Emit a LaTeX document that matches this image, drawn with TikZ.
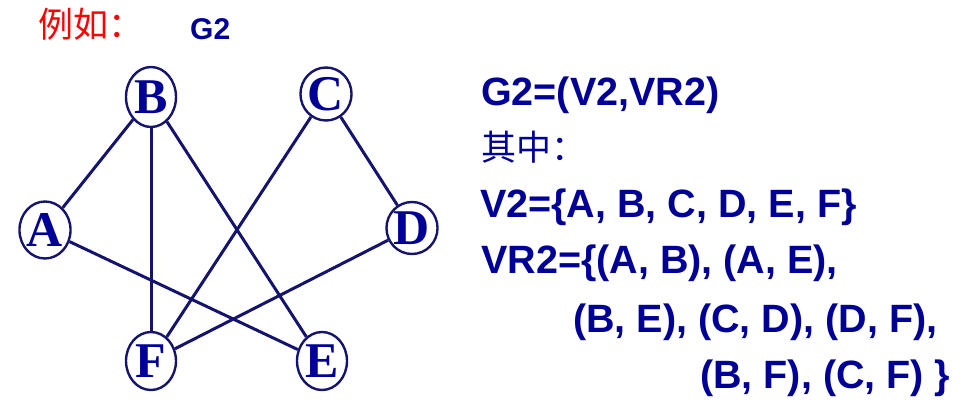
\documentclass[tikz,border=0pt]{standalone}
\usepackage{fontspec}
\setmainfont{Liberation Serif}
\setsansfont{Liberation Sans}
\newfontfamily\cjk{Noto Sans CJK SC}
\usetikzlibrary{shapes.geometric}
\definecolor{textblue}{RGB}{0,0,150}
\definecolor{edgeblue}{RGB}{20,20,110}
\tikzset{
  vertex/.style={ellipse, draw=edgeblue, line width=2.4pt, minimum width=50pt, inner sep=0pt,
    text=textblue, font=\bfseries\fontsize{50}{50}\selectfont},
  edge/.style={edgeblue, line width=3pt},
  settext/.style={anchor=base west, inner sep=0pt, text=textblue,
    font=\sffamily\bfseries\fontsize{39.5}{40}\selectfont},
}
\begin{document}
\begin{tikzpicture}[x=1pt, y=-1pt]
  \useasboundingbox (0,0) rectangle (974,407);
  % ---- Heading ----
  \node[red, anchor=west, inner sep=0pt, font=\cjk\fontsize{35}{35}\selectfont] (title) at (38,24) {例如：};
  \node[settext, font=\sffamily\bfseries\fontsize{30}{30}\selectfont] (gname) at (190,39) {G2};

  % ---- Graph G2 ----
  \foreach \n/\x/\y/\h in {A/45/230/57, B/151/97/60, C/326/94/53, D/412/228/52, E/322/361/58, F/151/361/58}
    {\node[vertex, minimum height=\h pt] (\n) at (\x,\y) {\n};}
  \foreach \u/\v in {A/B, A/E, B/E, B/F, C/D, C/F, D/F} {\draw[edge] (\u) -- (\v);}

  % ---- Definition ----
  \node[settext] (def) at (481,105) {G2=(V2,VR2)};
  \node[anchor=west, inner sep=0pt, text=textblue, font=\cjk\fontsize{35}{35}\selectfont] (where) at (481,147) {其中：};
  \node[settext] (vset) at (480,217) {V2=\{A, B, C, D, E, F\}};
  \node[settext] (rset1) at (481,273) {VR2=\{(A, B), (A, E),};
  \node[settext] (rset2) at (573,332) {(B, E), (C, D), (D, F),};
  \node[settext] (rset3) at (700,388) {(B, F), (C, F) \}};
\end{tikzpicture}
\end{document}
